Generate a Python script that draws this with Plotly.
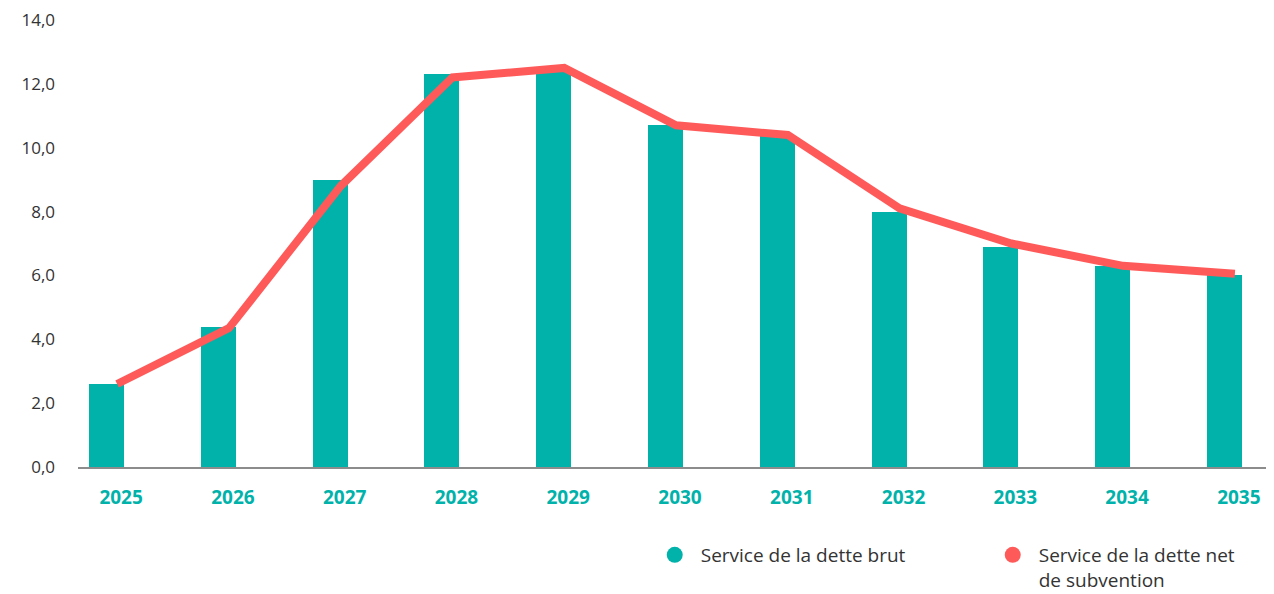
import plotly.graph_objects as go

years = ["2025", "2026", "2027", "2028", "2029", "2030", "2031", "2032", "2033", "2034", "2035"]
brut = [2.6, 4.4, 9.0, 12.3, 12.4, 10.7, 10.4, 8.0, 6.9, 6.3, 6.0]
net = [2.6, 4.35, 8.8, 12.2, 12.5, 10.7, 10.4, 8.1, 7.0, 6.3, 6.05]
yticks = [0, 2, 4, 6, 8, 10, 12, 14]
ytick_labels = ["0,0", "2,0", "4,0", "6,0", "8,0", "10,0", "12,0", "14,0"]

TEAL = "#00B2AA"
RED = "#FF5A5A"
FONT = "Open Sans"

fig = go.Figure()
fig.add_trace(go.Bar(x=years, y=brut, marker=dict(color=TEAL, line=dict(width=0)),
                     width=0.313, offset=-0.2505, showlegend=False, name="Service de la dette brut"))
fig.add_trace(go.Scatter(x=years, y=net, mode="lines", line=dict(color=RED, width=8),
                         showlegend=False, name="Service de la dette net de subvention"))
# legend entries
fig.add_trace(go.Scatter(x=[None], y=[None], mode="markers",
                         marker=dict(color=TEAL, size=19, symbol="circle"),
                         name="Service de la dette brut"))
fig.add_trace(go.Scatter(x=[None], y=[None], mode="markers",
                         marker=dict(color=RED, size=19, symbol="circle"),
                         name="Service de la dette net<br>de subvention"))

fig.update_layout(
    width=1266, height=586,
    margin=dict(l=70, r=0, t=12, b=127, autoexpand=False),
    plot_bgcolor="white", paper_bgcolor="white",
    font=dict(family=FONT, color="#333333"),
    xaxis=dict(type="category", range=[-0.35, 10.35], showgrid=False,
               showline=True, linecolor="#8c8c8c", linewidth=2,
               tickfont=dict(family=FONT, size=19, color=TEAL, weight="bold"),
               ticks="", ticklabelstandoff=12, ticklabelshift=4),
    yaxis=dict(range=[0, 14], tickvals=yticks, ticktext=ytick_labels, showgrid=False,
               zeroline=False, showline=False, ticks="",
               tickfont=dict(family=FONT, size=17, color="#333333"),
               ticklabelstandoff=22, ticklabeloverflow="allow"),
    legend=dict(orientation="h", x=0.4772, xanchor="left", y=-0.1543, yanchor="top",
                font=dict(family=FONT, size=19, color="#333333"),
                valign="top", entrywidth=281, itemwidth=42, itemsizing="trace"),
    bargap=0,
)

fig.write_html("out.html")
